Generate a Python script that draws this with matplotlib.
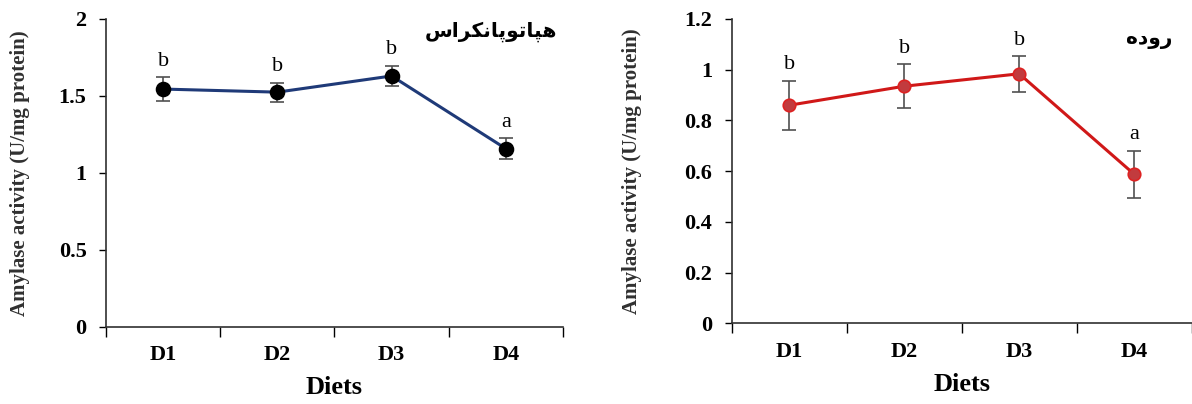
import matplotlib
matplotlib.use("Agg")
import matplotlib.pyplot as plt

# data
diets = ["D1", "D2", "D3", "D4"]
hepato_mean = [1.545, 1.525, 1.630, 1.158]
hepato_err = [0.076, 0.062, 0.065, 0.068]
hepato_letters = ["b", "b", "b", "a"]
gut_mean = [0.860, 0.935, 0.984, 0.588]
gut_err = [0.097, 0.087, 0.070, 0.093]
gut_letters = ["b", "b", "b", "a"]
hepato_title = "هپاتوپانکراس"
gut_title = "روده"

# matplotlib has no Arabic shaping, so join the letters by hand
# (isolated, final, initial, medial) presentation forms
FORMS = {
    "ه": ("\ufee9", "\ufeea", "\ufeeb", "\ufeec"),
    "پ": ("\ufb56", "\ufb57", "\ufb58", "\ufb59"),
    "ا": ("\ufe8d", "\ufe8e", "\ufe8d", "\ufe8e"),
    "ت": ("\ufe95", "\ufe96", "\ufe97", "\ufe98"),
    "و": ("\ufeed", "\ufeee", "\ufeed", "\ufeee"),
    "ن": ("\ufee5", "\ufee6", "\ufee7", "\ufee8"),
    "ک": ("\ufb8e", "\ufb8f", "\ufb90", "\ufb91"),
    "ر": ("\ufead", "\ufeae", "\ufead", "\ufeae"),
    "س": ("\ufeb1", "\ufeb2", "\ufeb3", "\ufeb4"),
    "د": ("\ufea9", "\ufeaa", "\ufea9", "\ufeaa"),
}
RIGHT_ONLY = set("اورد")


def shape(word):
    out = []
    for i, ch in enumerate(word):
        prev_joins = i > 0 and word[i - 1] not in RIGHT_ONLY
        next_joins = i < len(word) - 1 and ch not in RIGHT_ONLY
        idx = {(False, False): 0, (True, False): 1,
               (False, True): 2, (True, True): 3}[(prev_joins, next_joins)]
        out.append(FORMS[ch][idx])
    return "".join(reversed(out))


plt.rcParams["font.family"] = ["Liberation Serif", "DejaVu Sans"]

fig = plt.figure(figsize=(11.92, 4.04), dpi=100)
ax1 = fig.add_axes([0.0889, 0.1906, 0.3834, 0.7624])
ax2 = fig.add_axes([0.6138, 0.1993, 0.3860, 0.7537])


def panel(ax, mean, err, letters, title, ymax, step, line_col, face_col, edge_col, ms,
          title_pos):
    x = list(range(len(diets)))
    ax.errorbar(x, mean, yerr=err, fmt="none", ecolor="#505050",
                elinewidth=1.2, capsize=5, capthick=1.2, zorder=2)
    ax.plot(x, mean, color=line_col, lw=2.2, marker="o", ms=ms,
            markerfacecolor=face_col, markeredgecolor=edge_col,
            markeredgewidth=1.2, zorder=3)
    for xi, m, e, l in zip(x, mean, err, letters):
        ax.annotate(l, (xi, m + e), xytext=(0, 11.5), textcoords="offset points",
                    ha="center", va="center", fontsize=16)
    ax.set_xlim(-0.5, len(diets) - 0.5)
    ax.set_ylim(0, ymax)
    ticks = [round(i * step, 2) for i in range(int(round(ymax / step)) + 1)]
    ax.set_yticks(ticks)
    ax.set_yticklabels([f"{t:g}" for t in ticks], fontsize=16, fontweight="bold")
    ax.set_xticks([i - 0.5 for i in range(len(diets) + 1)], minor=False)
    ax.set_xticklabels([])
    ax.set_xticks(x, minor=True)
    ax.set_xticklabels(diets, minor=True, fontsize=16, fontweight="bold")
    ax.tick_params(axis="x", which="major", direction="out", length=7, width=1)
    ax.tick_params(axis="x", which="minor", length=0, pad=13)
    ax.tick_params(axis="y", direction="out", length=5, width=1, pad=9)
    for s in ["top", "right"]:
        ax.spines[s].set_visible(False)
    for s in ["left", "bottom"]:
        ax.spines[s].set_linewidth(1.2)
        ax.spines[s].set_color("#303030")
    ax.set_xlabel("Diets", fontsize=19, fontweight="bold", labelpad=8)
    ax.set_ylabel("Amylase activity (U/mg protein)", fontsize=15,
                  fontweight="bold", color="#303030")
    ax.text(title_pos[0], title_pos[1], shape(title), transform=ax.transAxes,
            ha="right", va="center", fontsize=14.5, family=["DejaVu Sans"],
            fontweight="bold")


panel(ax1, hepato_mean, hepato_err, hepato_letters, hepato_title, 2, 0.5,
      "#1f3a78", "black", "black", 10, (0.987, 0.958))
panel(ax2, gut_mean, gut_err, gut_letters, gut_title, 1.2, 0.2,
      "#d01818", "#c23b3e", "#dd2222", 9, (0.957, 0.931))
ax1.yaxis.set_label_coords(-0.166, 0.5)
ax2.yaxis.set_label_coords(-0.195, 0.5)

fig.savefig("out.png", dpi=100)
plt.close(fig)
